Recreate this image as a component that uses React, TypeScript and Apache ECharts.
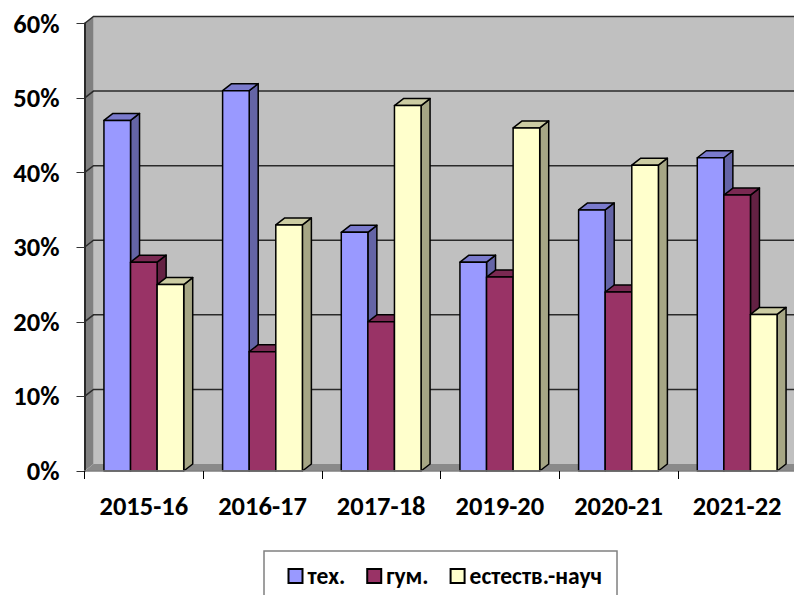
import React, { useEffect, useRef } from "react";
import * as echarts from "echarts";

const categories = ["2015-16", "2016-17", "2017-18", "2019-20", "2020-21", "2021-22"];
const tech = [47, 51, 32, 28, 35, 42];
const hum = [28, 16, 20, 26, 24, 37];
const nat = [25, 33, 49, 46, 41, 21];
const yTicks = [0, 10, 20, 30, 40, 50, 60];
const seriesNames = ["тех.", "гум.", "естеств.-науч"];

const DX = 9;
const DY = -7;
const BAR_RATIO = 26.6 / 118.7;
const FONT = "Carlito, Lato, 'Open Sans', sans-serif";

const palettes = [
  { front: "#9999ff", side: "#6464a6", top: "#7a7acc" },
  { front: "#993366", side: "#642143", top: "#7a2952" },
  { front: "#ffffcc", side: "#a6a685", top: "#cccca3" },
];

const barRender = (seriesIdx: number) => (_: any, api: any) => {
  const cat = api.value(0);
  const val = api.value(1);
  const top = api.coord([cat, val]);
  const base = api.coord([cat, 0]);
  const band = api.size([1, 0])[0];
  const w = band * BAR_RATIO;
  const x0 = top[0] + (seriesIdx - 1.5) * w;
  const x1 = x0 + w;
  const yT = top[1];
  const yB = base[1];
  const p = palettes[seriesIdx];
  const stroke = { stroke: "#000", lineWidth: 1.5, lineJoin: "round" };
  return {
    type: "group",
    children: [
      {
        type: "polygon",
        shape: { points: [[x1, yT], [x1 + DX, yT + DY], [x1 + DX, yB + DY], [x1, yB]] },
        style: { fill: p.side, ...stroke },
      },
      {
        type: "polygon",
        shape: { points: [[x0, yT], [x0 + DX, yT + DY], [x1 + DX, yT + DY], [x1, yT]] },
        style: { fill: p.top, ...stroke },
      },
      {
        type: "rect",
        shape: { x: x0, y: yT, width: w, height: yB - yT },
        style: { fill: p.front, ...stroke },
      },
    ],
  };
};

const wallRender = (_: any, api: any) => {
  const o = api.coord([0, 0]);
  const t = api.coord([0, 60]);
  const band = api.size([1, 0])[0];
  const left = o[0] - band / 2;
  const right = left + band * categories.length;
  const yB = o[1];
  const yT = t[1];
  return {
    type: "group",
    children: [
      {
        type: "polygon",
        shape: { points: [[left + DX, yT + DY], [right + DX, yT + DY], [right + DX, yB + DY], [left + DX, yB + DY]] },
        style: { fill: "#c0c0c0" },
      },
      {
        type: "polygon",
        shape: { points: [[left, yT], [left + DX, yT + DY], [left + DX, yB + DY], [left, yB]] },
        style: { fill: "#808080" },
      },
      {
        type: "polygon",
        shape: { points: [[left, yB], [left + DX, yB + DY], [right + DX, yB + DY], [right, yB]] },
        style: { fill: "#8a8a8a" },
      },
    ],
  };
};

const gridRender = (_: any, api: any) => {
  const v = api.value(0);
  const o = api.coord([0, v]);
  const band = api.size([1, 0])[0];
  const left = o[0] - band / 2;
  const right = left + band * categories.length;
  const y = o[1];
  if (v === 0) return { type: "group", children: [] };
  return {
    type: "polyline",
    shape: { points: [[left, y], [left + DX, y + DY], [right + DX, y + DY]] },
    style: { fill: "none", stroke: "#2a2a2a", lineWidth: 1.5 },
  };
};

const axisFont = { fontFamily: FONT, fontWeight: "bold" as const, fontSize: 26.5, color: "#000" };

export default function App() {
  const ref = useRef<HTMLDivElement>(null);
  useEffect(() => {
    const chart = echarts.init(ref.current!, undefined, { renderer: "svg" });
    const barSeries = [tech, hum, nat].map((vals, i) => ({
      type: "custom" as const,
      name: seriesNames[i],
      renderItem: barRender(i),
      data: vals.map((v, c) => [c, v]),
      encode: { x: 0, y: 1 },
      itemStyle: { color: palettes[i].front, borderColor: "#000", borderWidth: 2 },
      z: 5,
      silent: true,
    }));
    chart.setOption({
      animation: false,
      backgroundColor: "#fff",
      grid: { left: 84.5, width: 712, top: 23.5, height: 447.5, outerBoundsMode: "none" },
      xAxis: {
        type: "category",
        data: categories,
        axisLine: { show: true, lineStyle: { color: "#808080", width: 1.5 } },
        axisTick: { show: true, length: 8, alignWithLabel: false, lineStyle: { color: "#000", width: 1 } },
        axisLabel: { ...axisFont, margin: 21, interval: 0 },
        splitLine: { show: false },
        z: 10,
      },
      yAxis: {
        type: "value",
        min: 0,
        max: 60,
        interval: 10,
        axisLine: { show: true, lineStyle: { color: "#2a2a2a", width: 2 } },
        axisTick: { show: true, length: 8, lineStyle: { color: "#333", width: 1 } },
        axisLabel: { ...axisFont, margin: 25, formatter: "{value}%" },
        splitLine: { show: false },
        z: 10,
      },
      legend: {
        show: true,
        data: seriesNames,
        left: 264,
        top: 551,
        orient: "horizontal",
        padding: [13, 15, 40, 23.5],
        itemGap: 21,
        itemWidth: 14,
        itemHeight: 14,
        icon: "rect",
        borderColor: "#808080",
        borderWidth: 1.5,
        backgroundColor: "#fff",
        textStyle: { fontFamily: FONT, fontWeight: "bold", fontSize: 23.5, color: "#000" },
      },
      series: [
        {
          type: "custom",
          name: "wall",
          renderItem: wallRender,
          data: [[0, 0]],
          encode: { x: 0, y: 1 },
          z: 1,
          silent: true,
        },
        {
          type: "custom",
          name: "gridlines",
          renderItem: gridRender,
          data: yTicks.map((v) => [v]),
          encode: { y: 0 },
          z: 2,
          silent: true,
        },
        ...barSeries,
      ],
    });
    return () => chart.dispose();
  }, []);
  return (
    <div
      ref={ref}
      style={{ position: "fixed", left: 0, top: 0, width: 794, height: 595 }}
    />
  );
}
